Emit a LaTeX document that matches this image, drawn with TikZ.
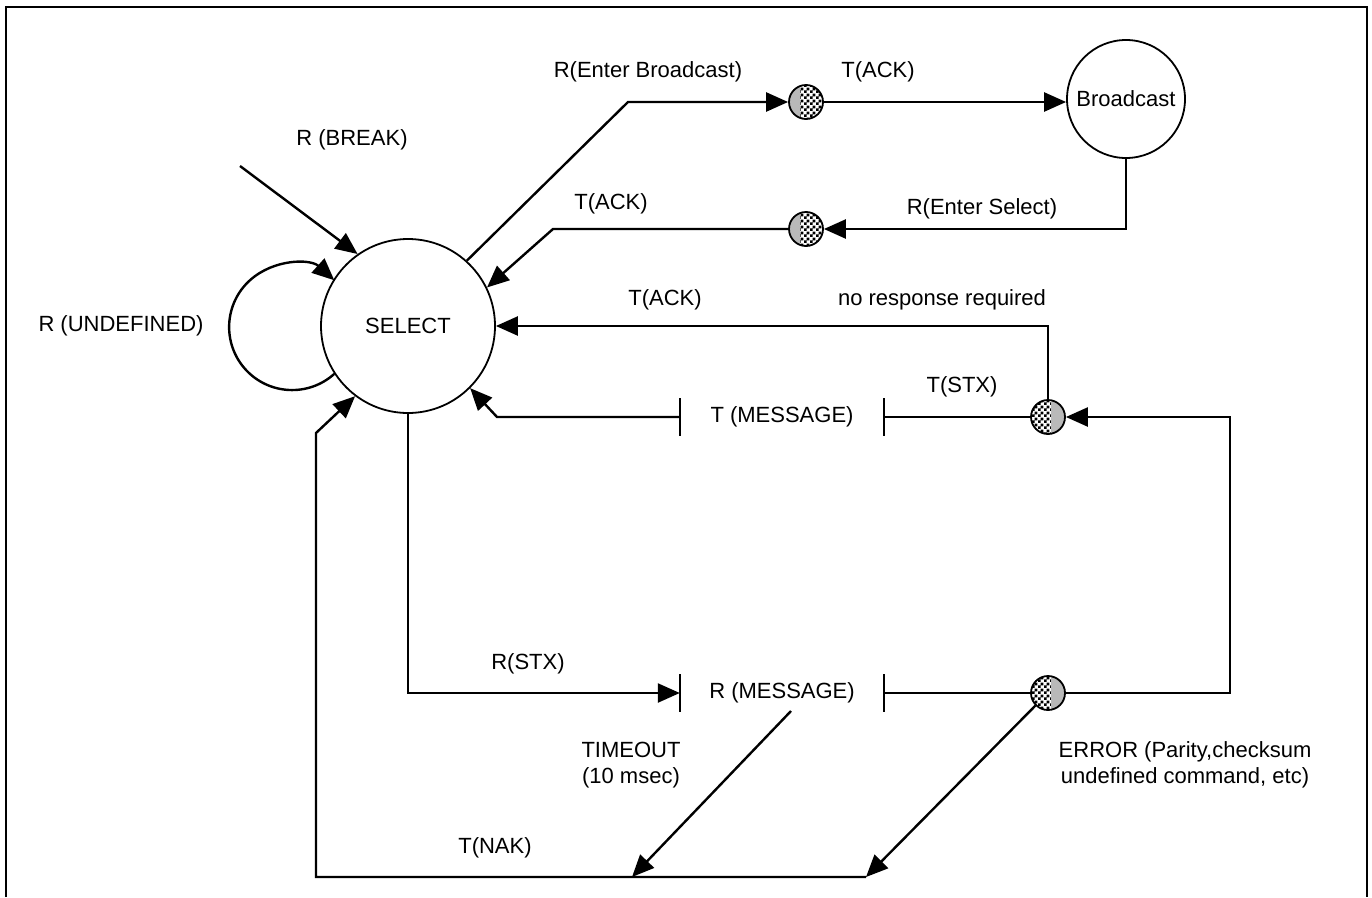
\documentclass[tikz,border=0pt]{standalone}
\usepackage{fontspec}
\setmainfont{Liberation Sans}
\usetikzlibrary{calc, arrows.meta, patterns}

\pgfdeclarepatternformonly{finechecker}{\pgfqpoint{0pt}{0pt}}{\pgfqpoint{6pt}{6pt}}{\pgfqpoint{6pt}{6pt}}{
    \pgfpathrectangle{\pgfqpoint{0pt}{0pt}}{\pgfqpoint{3pt}{3pt}}
    \pgfpathrectangle{\pgfqpoint{3pt}{3pt}}{\pgfqpoint{3pt}{3pt}}
    \pgfusepath{fill}}

\begin{document}
\begin{tikzpicture}[x=1pt,y=-1pt,line width=2.4pt,
        font=\fontsize{22}{26}\selectfont,
        arr/.style={-{Triangle[length=22pt,width=19pt]}},
        state/.style={circle,draw,line width=1.8pt,inner sep=0pt},
        junction/.style={circle,draw,line width=1.8pt,minimum size=34pt,inner sep=0pt,pattern=finechecker},
        shadeL/.style={path picture={\fill[gray!55] (path picture bounding box.south west) rectangle ([xshift=-6pt]path picture bounding box.north);}},
        shadeR/.style={path picture={\fill[gray!55] ([xshift=3pt]path picture bounding box.south) rectangle (path picture bounding box.north east);}},
        tick/.style={line width=2.4pt}]
    \useasboundingbox (0,0) rectangle (1372,897);
    \draw (6,897) -- (6,7) -- (1367,7) -- (1367,897);

    \node[state,minimum size=174pt] (select) at (408,326) {SELECT};
    \node[state,minimum size=118pt] (bcast) at (1126,99) {Broadcast};
    \node[junction,shadeL] (j1) at (806,102) {};
    \node[junction,shadeL] (j2) at (806,229) {};
    \node[junction,shadeR] (j3) at (1048,417) {};
    \node[junction,shadeR] (j4) at (1048,693) {};
    \node[minimum width=202pt,inner sep=0pt] (tmsg) at (782,417) {T (MESSAGE)};
    \node[minimum width=202pt,inner sep=0pt] (rmsg) at (782,693) {R (MESSAGE)};
    \draw[tick] ([yshift=19pt]tmsg.west) -- ([yshift=-19pt]tmsg.west);
    \draw[tick] ([yshift=19pt]tmsg.east) -- ([yshift=-19pt]tmsg.east);
    \draw[tick] ([yshift=19pt]rmsg.west) -- ([yshift=-19pt]rmsg.west);
    \draw[tick] ([yshift=19pt]rmsg.east) -- ([yshift=-19pt]rmsg.east);

    \coordinate (brk) at (240,166);
    \coordinate (tmo) at (791,711);
    \coordinate (nakA) at (632,877);
    \coordinate (nakB) at (866,877);

    \draw[arr] (brk) -- (select.125);
    \node at (352,140) {R (BREAK)};
    \draw[arr] (select.213) arc[start angle=48,end angle=312,radius=63];
    \node at (121,326) {R (UNDEFINED)};

    \draw[arr] (select.48) -- (628,102) -- (j1);
    \node at (648,72) {R(Enter Broadcast)};
    \draw[arr] (j1) -- (j1 -| bcast.west);
    \node at (878,72) {T(ACK)};
    \draw[arr] (bcast.south) |- (j2);
    \node at (982,209) {R(Enter Select)};
    \draw[arr] (j2) -- (553,229) -- (select.26);
    \node at (611,204) {T(ACK)};

    \draw[arr] (j3) |- (select);
    \node at (665,300) {T(ACK)};
    \node at (942,300) {no response required};
    \draw (j3) -- (tmsg.east);
    \draw[arr] (tmsg.west) -- (497,417) -- (select.-45);
    \node at (962,387) {T(STX)};
    \draw[arr] (j4) -| (1230,417) -- (j3);

    \draw[arr] (select.south) |- (rmsg.west);
    \node at (528,664) {R(STX)};
    \draw (rmsg.east) -- (j4);
    \draw[arr] (tmo) -- (nakA);
    \node[align=center] at (631,765) {TIMEOUT\\(10 msec)};
    \draw[arr] (j4.225) -- (nakB);
    \node[align=center] at (1185,765) {ERROR (Parity,checksum\\ undefined command, etc)};
    \draw[arr] (nakB) -- (316,877) -- (316,433) -- (select.233);
    \node at (495,848) {T(NAK)};
\end{tikzpicture}
\end{document}
